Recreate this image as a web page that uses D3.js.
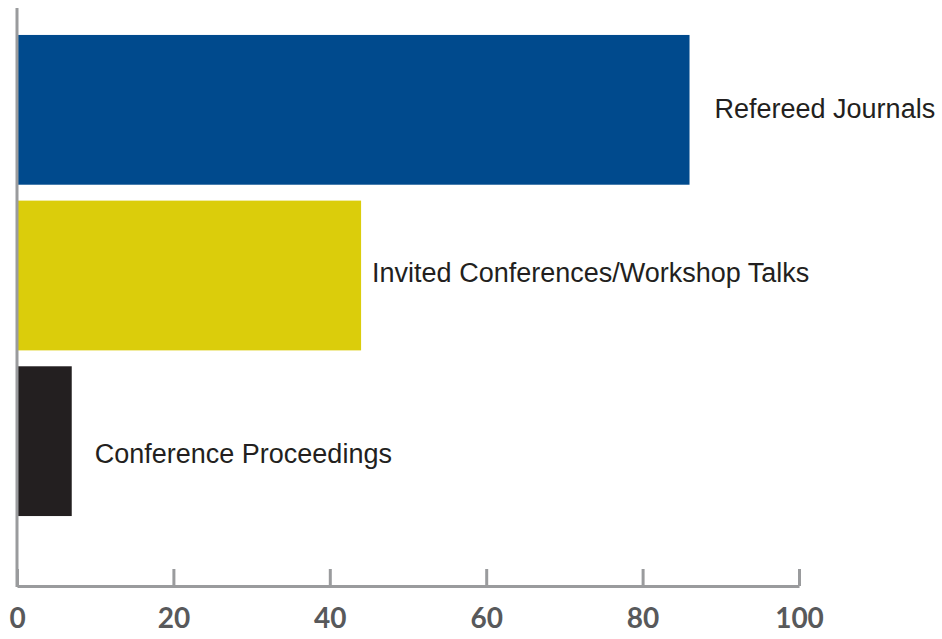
<!DOCTYPE html>
<html>
<head>
<meta charset="utf-8">
<script src="https://cdn.jsdelivr.net/npm/d3@7"></script>
<style>
  html, body { margin: 0; padding: 0; background: #fff; }
  svg { display: block; }
</style>
</head>
<body>
<svg id="chart" width="942" height="639"></svg>
<script>
// Publication counts by type
const categories = ["Refereed Journals", "Invited Conferences/Workshop Talks", "Conference Proceedings"];
const values = [86, 44, 7];
const barColors = ["#004a8d", "#dbcd0b", "#231f20"];
const tickValues = [0, 20, 40, 60, 80, 100];

// Label placement relative to each bar's end (dx) and middle (dy, baseline)
const labelOffsets = [
  { dx: 25, dy: 8 },
  { dx: 11, dy: 6 },
  { dx: 23, dy: 22 }
];

const svg = d3.select("#chart");
const axisColor = "#9a9b9d";

const x = d3.scaleLinear().domain([0, 100]).range([17, 799]);
const y = d3.scaleBand().domain(categories).range([27, 524]).paddingInner(0.096).paddingOuter(0.048);

// Bars
svg.append("g")
  .selectAll("rect")
  .data(categories)
  .join("rect")
  .attr("x", x(0))
  .attr("y", d => y(d))
  .attr("width", (d, i) => x(values[i]) - x(0))
  .attr("height", y.bandwidth())
  .attr("fill", (d, i) => barColors[i]);

// Category labels
svg.append("g")
  .selectAll("text")
  .data(categories)
  .join("text")
  .attr("x", (d, i) => x(values[i]) + labelOffsets[i].dx)
  .attr("y", (d, i) => y(d) + y.bandwidth() / 2 + labelOffsets[i].dy)
  .attr("font-family", "'Liberation Sans', Arial, Helvetica, sans-serif")
  .attr("font-size", 27)
  .attr("fill", "#231f20")
  .text(d => d);

// Vertical axis line
svg.append("line")
  .attr("x1", 17).attr("x2", 17)
  .attr("y1", 8).attr("y2", 587)
  .attr("stroke", axisColor)
  .attr("stroke-width", 3);

// Horizontal axis with upward ticks
const xAxis = d3.axisBottom(x)
  .tickValues(tickValues)
  .tickSize(-17)
  .tickSizeOuter(0)
  .tickPadding(22);

const gx = svg.append("g")
  .attr("transform", "translate(0,586)")
  .call(xAxis);

gx.select(".domain").attr("stroke", axisColor).attr("stroke-width", 3);
gx.selectAll(".tick line").attr("stroke", axisColor).attr("stroke-width", 3);
gx.selectAll(".tick text")
  .attr("dy", "0.71em")
  .attr("font-family", "Lato, 'Open Sans', sans-serif")
  .attr("font-weight", "bold")
  .attr("font-size", 28)
  .attr("fill", "#58595b");
</script>
</body>
</html>
